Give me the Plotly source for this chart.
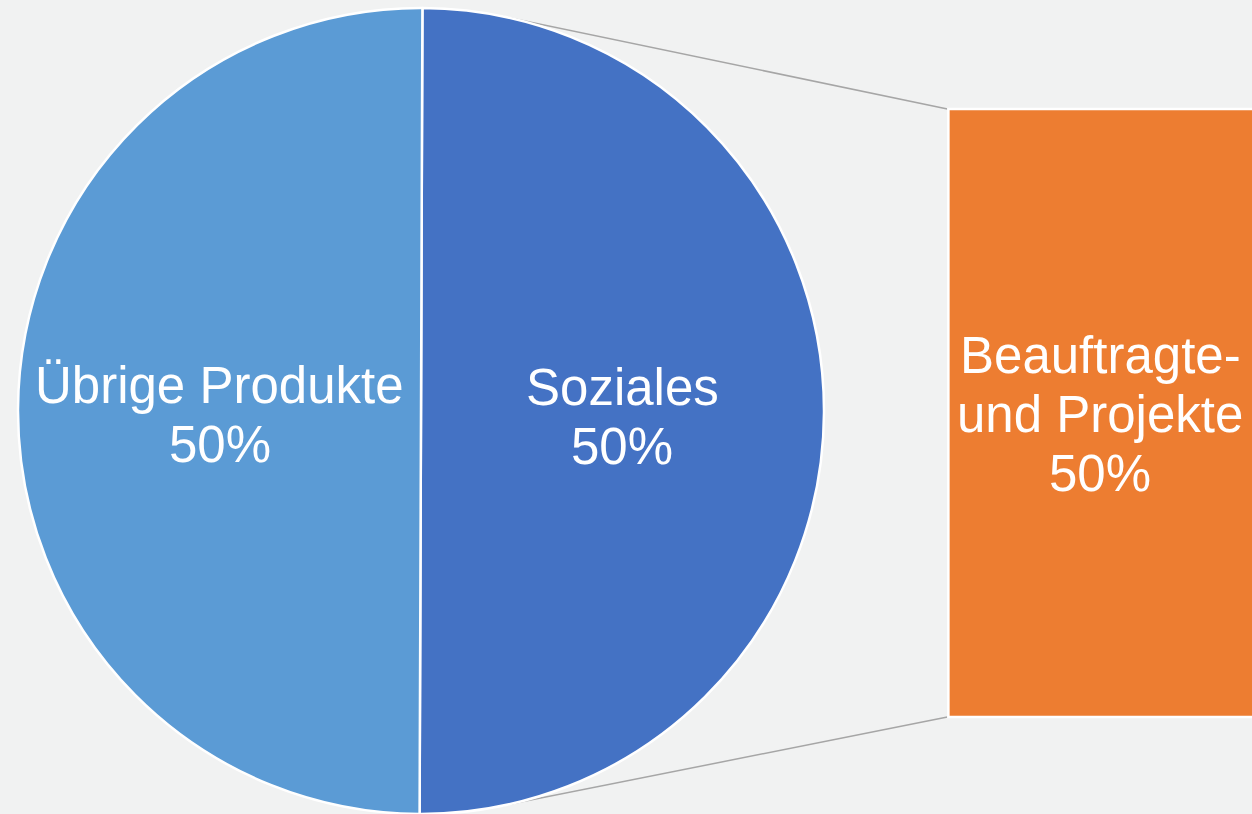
import math
import plotly.graph_objects as go

# ---- data ----
pie_labels = ["Soziales", "Übrige Produkte"]
pie_values = [50, 50]
pie_pct = ["50%", "50%"]
bar_label_lines = ["Beauftragte-", "und Projekte"]
bar_value = 50
bar_pct = "50%"

# ---- styling ----
W, H = 1252, 814
BG = "#f1f2f2"
C_LIGHT = "#5b9bd5"
C_BLUE = "#4472c4"
C_ORANGE = "#ed7d31"
FONT = "Liberation Sans, Arial, sans-serif"
FS = 51
LINE_H = 59
ROT = 0.2

# pie geometry (pixels)
cx, cy, r = 421, 411, 403
pie_dom_x = [(cx - r) / W, (cx + r) / W]
pie_dom_y = [(H - cy - r) / H, (H - cy + r) / H]

fig = go.Figure()
fig.add_trace(go.Pie(
    labels=pie_labels, values=pie_values, sort=False, direction="clockwise",
    rotation=ROT, textinfo="none", hoverinfo="label+percent",
    marker=dict(colors=[C_BLUE, C_LIGHT], line=dict(color="white", width=2.5)),
    domain=dict(x=pie_dom_x, y=pie_dom_y), showlegend=False,
))

# bar of pie
bx_dom = [0.75, 1.0]
bx_range = [-0.03, 0.97]
by_range = [-7.977, 58.964]
fig.add_trace(go.Bar(
    x=[0], y=[bar_value], width=[1], offset=0,
    marker=dict(color=C_ORANGE, line=dict(color="white", width=2.5)),
    xaxis="x", yaxis="y", showlegend=False, hoverinfo="y",
))

annotations = []
def add_lines(lines, xp, yp_center):
    n = len(lines)
    for i, t in enumerate(lines):
        off = (i - (n - 1) / 2) * LINE_H
        annotations.append(dict(
            text=t, x=xp / W, y=(H - (yp_center + off)) / H, xref="paper", yref="paper",
            showarrow=False, xanchor="center", yanchor="middle",
            font=dict(family=FONT, size=FS, color="white"),
        ))

# pie labels at half radius of slice midpoint
total = sum(pie_values)
acc = 0
for lab, v, p in zip(pie_labels, pie_values, pie_pct):
    mid = ROT + (acc + v / 2) / total * 360
    acc += v
    ang = math.radians(mid)
    lx = cx + 0.5 * r * math.sin(ang)
    ly = cy - 0.5 * r * math.cos(ang) + 5
    add_lines([lab, p], lx, ly)

# bar geometry in pixels
def xpix(v):
    d0, d1 = bx_dom[0] * W, bx_dom[1] * W
    return d0 + (v - bx_range[0]) / (bx_range[1] - bx_range[0]) * (d1 - d0)
def ypix(v):
    return H - (v - by_range[0]) / (by_range[1] - by_range[0]) * H

bar_left = xpix(0)
bar_top = ypix(bar_value)
bar_bot = ypix(0)
bar_mid_x = (bar_left + W) / 2
add_lines(bar_label_lines + [bar_pct], bar_mid_x, (bar_top + bar_bot) / 2 + 1)

# connector lines: tangents from bar corners to the pie circle
def tangent_point(px, py, upper):
    dx, dy = px - cx, py - cy
    d = math.hypot(dx, dy)
    base = math.atan2(dy, dx)
    a = math.acos(r / d)
    t = base - a if upper else base + a
    return cx + r * math.cos(t), cy + r * math.sin(t)

shapes = []
for (qx, qy), upper in [((bar_left - 1, bar_top), True), ((bar_left - 1, bar_bot), False)]:
    px, py = tangent_point(qx, qy, upper)
    shapes.append(dict(type="line", xref="paper", yref="paper",
                       x0=px / W, y0=(H - py) / H, x1=qx / W, y1=(H - qy) / H,
                       line=dict(color="#a6a6a6", width=1.5), layer="below"))

fig.update_layout(
    width=W, height=H, margin=dict(l=0, r=0, t=0, b=0),
    paper_bgcolor=BG, plot_bgcolor="rgba(0,0,0,0)",
    xaxis=dict(domain=bx_dom, range=bx_range, visible=False, fixedrange=True),
    yaxis=dict(domain=[0, 1], range=by_range, visible=False, fixedrange=True),
    annotations=annotations, shapes=shapes, showlegend=False,
)

fig.write_html("out.html")
